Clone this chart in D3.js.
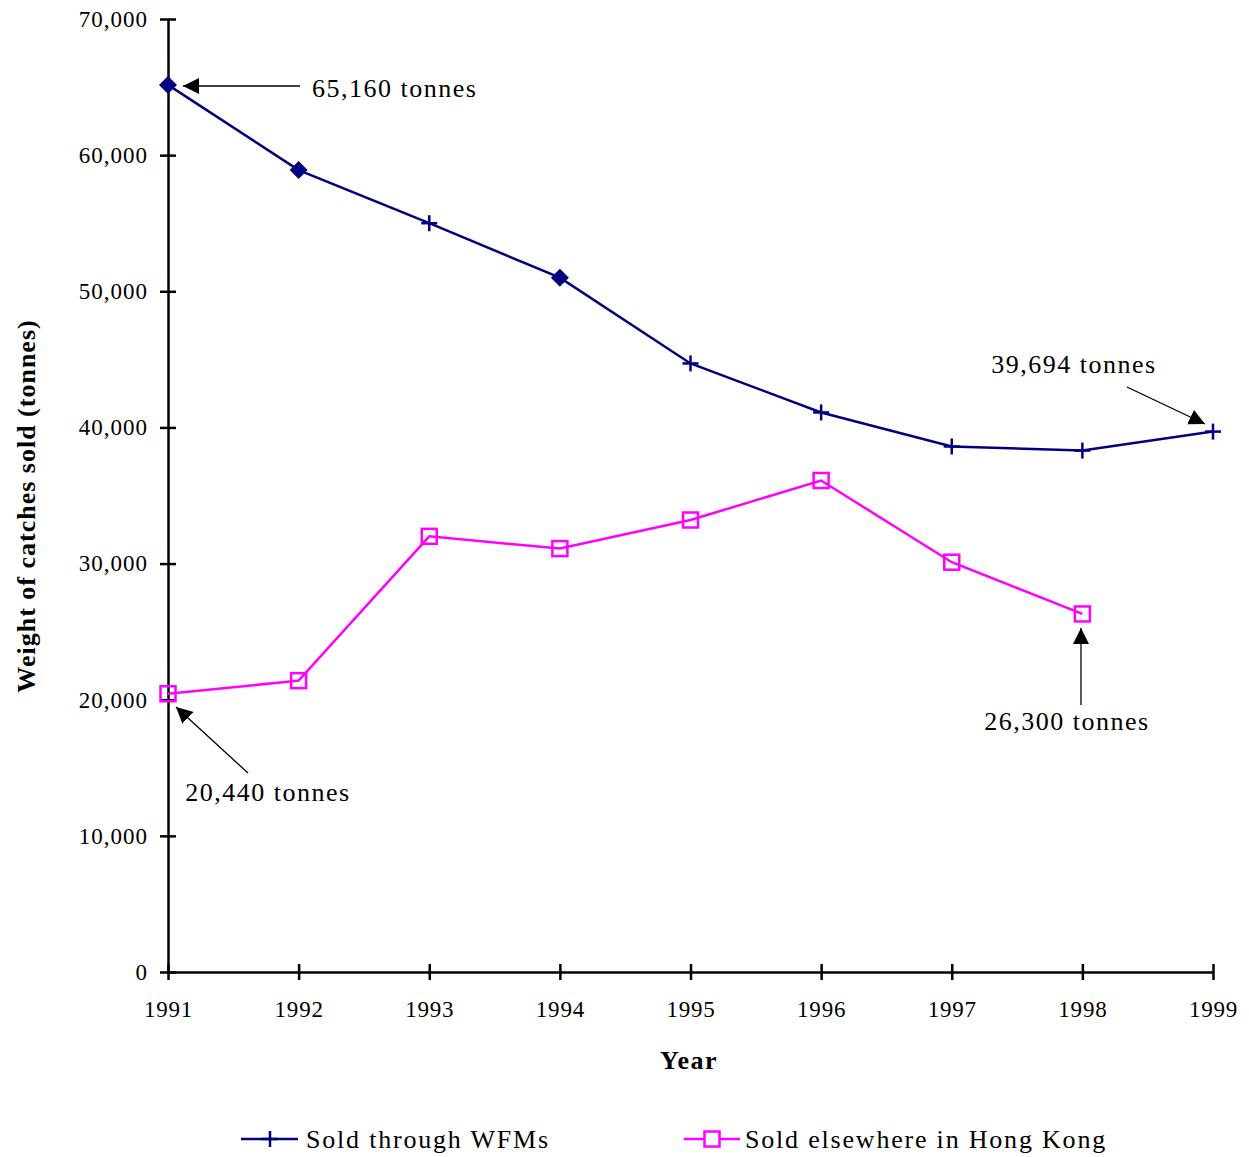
<!DOCTYPE html>
<html>
<head>
<meta charset="utf-8">
<script src="https://cdn.jsdelivr.net/npm/d3@7"></script>
<style>
  html, body { margin: 0; padding: 0; background: #fff; }
  svg text { font-family: "Liberation Serif", "Times New Roman", serif; fill: #000; }
</style>
</head>
<body>
<svg id="chart" width="1249" height="1157"></svg>
<script>
// Catches landed, by year
const years = [1991, 1992, 1993, 1994, 1995, 1996, 1997, 1998, 1999];
const wfmValues = [65160, 58900, 55000, 51000, 44700, 41100, 38600, 38300, 39694];
const wfmMarkers = ["diamond", "diamond", "plus", "diamond", "plus", "plus", "plus", "plus", "plus"];
const elsewhereYears = [1991, 1992, 1993, 1994, 1995, 1996, 1997, 1998];
const elsewhereValues = [20440, 21400, 32000, 31100, 33200, 36100, 30100, 26300];
const yTicks = [0, 10000, 20000, 30000, 40000, 50000, 60000, 70000];
const seriesNames = ["Sold through WFMs", "Sold elsewhere in Hong Kong"];
const seriesColors = ["#000080", "#ff00ff"];

const svg = d3.select("#chart");
const x = d3.scaleLinear().domain([1991, 1999]).range([168, 1213]);
const y = d3.scaleLinear().domain([0, 70000]).range([972, 19]);
const fmt = d3.format(",");

// Axes
const yAxis = d3.axisLeft(y).tickValues(yTicks).tickFormat(v => fmt(v)).tickSize(0).tickPadding(20);
const gy = svg.append("g").attr("transform", `translate(${x(1991)},0)`).call(yAxis);
gy.select(".domain").attr("stroke", "#000").attr("stroke-width", 2.5);
gy.selectAll(".tick text").attr("font-size", 23).attr("letter-spacing", 1)
  .style("font-family", "Liberation Serif");
gy.selectAll(".tick").append("line").attr("x1", -8).attr("x2", 8).attr("stroke", "#000").attr("stroke-width", 2.5);

const xAxis = d3.axisBottom(x).tickValues(years).tickFormat(d3.format("d")).tickSize(0).tickPadding(29);
const gx = svg.append("g").attr("transform", `translate(0,${y(0)})`).call(xAxis);
gx.select(".domain").attr("stroke", "#000").attr("stroke-width", 2.5);
gx.selectAll(".tick text").attr("font-size", 23).attr("letter-spacing", 0.8)
  .style("font-family", "Liberation Serif");
gx.selectAll(".tick").append("line").attr("y1", -8).attr("y2", 8).attr("stroke", "#000").attr("stroke-width", 2.5);

// Axis titles
svg.append("text").attr("x", 689).attr("y", 1069).attr("text-anchor", "middle")
  .attr("font-size", 26).attr("letter-spacing", 1.5).attr("font-weight", "bold").text("Year");
svg.append("text").attr("transform", `translate(35,506) rotate(-90)`).attr("text-anchor", "middle")
  .attr("font-size", 26).attr("letter-spacing", 1).attr("font-weight", "bold")
  .text("Weight of catches sold (tonnes)");

// Series lines
const line = d3.line().x(d => x(d[0])).y(d => y(d[1]));
const wfmData = years.map((yr, i) => [yr, wfmValues[i], wfmMarkers[i]]);
const elseData = elsewhereYears.map((yr, i) => [yr, elsewhereValues[i]]);

svg.append("path").datum(wfmData).attr("d", line).attr("fill", "none")
  .attr("stroke", seriesColors[0]).attr("stroke-width", 2.5);
svg.append("path").datum(elseData).attr("d", line).attr("fill", "none")
  .attr("stroke", seriesColors[1]).attr("stroke-width", 2.5);

// WFM markers: diamonds on some years, plus signs elsewhere
function plusMarker(g, cx, cy, color) {
  g.append("line").attr("x1", cx).attr("x2", cx).attr("y1", cy - 8).attr("y2", cy + 8)
    .attr("stroke", color).attr("stroke-width", 2.5);
  g.append("line").attr("x1", cx - 8).attr("x2", cx + 8).attr("y1", cy).attr("y2", cy)
    .attr("stroke", color).attr("stroke-width", 2.5);
}
const mk = svg.append("g");
wfmData.forEach(d => {
  const cx = x(d[0]), cy = y(d[1]);
  if (d[2] === "diamond") {
    mk.append("path").attr("d", `M${cx},${cy - 9}L${cx + 9},${cy}L${cx},${cy + 9}L${cx - 9},${cy}Z`)
      .attr("fill", seriesColors[0]);
  } else {
    plusMarker(mk, cx, cy, seriesColors[0]);
  }
});
elseData.forEach(d => {
  mk.append("rect").attr("x", x(d[0]) - 7.5).attr("y", y(d[1]) - 7.5).attr("width", 15).attr("height", 15)
    .attr("fill", "none").attr("stroke", seriesColors[1]).attr("stroke-width", 2.5);
});

// Annotation arrows
svg.append("defs").append("marker").attr("id", "arrowhead")
  .attr("viewBox", "0 0 10 10").attr("refX", 10).attr("refY", 5)
  .attr("markerWidth", 16).attr("markerHeight", 16).attr("markerUnits", "userSpaceOnUse")
  .attr("orient", "auto")
  .append("path").attr("d", "M0,0L10,5L0,10Z").attr("fill", "#000");

const annotations = [
  { label: "65,160 tonnes", tx: 312, ty: 97, anchor: "start", from: [300, 86], to: [183, 86] },
  { label: "39,694 tonnes", tx: 1074, ty: 373, anchor: "middle", from: [1127, 387], to: [1205, 424] },
  { label: "20,440 tonnes", tx: 268, ty: 801, anchor: "middle", from: [248, 773], to: [176, 707] },
  { label: "26,300 tonnes", tx: 1067, ty: 730, anchor: "middle", from: [1081, 705], to: [1081, 628] }
];
annotations.forEach(a => {
  svg.append("line").attr("x1", a.from[0]).attr("y1", a.from[1]).attr("x2", a.to[0]).attr("y2", a.to[1])
    .attr("stroke", "#000").attr("stroke-width", 1.3).attr("marker-end", "url(#arrowhead)");
  svg.append("text").attr("x", a.tx).attr("y", a.ty).attr("text-anchor", a.anchor)
    .attr("font-size", 26).attr("letter-spacing", 1.5).text(a.label);
});

// Legend
const legend = svg.append("g");
[[241, 298, 270, 306], [684, 740, 712, 745]].forEach((p, i) => {
  legend.append("line").attr("x1", p[0]).attr("x2", p[1]).attr("y1", 1139).attr("y2", 1139)
    .attr("stroke", seriesColors[i]).attr("stroke-width", 2.5);
  if (i === 0) plusMarker(legend, p[2], 1139, seriesColors[0]);
  else legend.append("rect").attr("x", p[2] - 7.5).attr("y", 1139 - 7.5).attr("width", 15).attr("height", 15)
    .attr("fill", "#fff").attr("stroke", seriesColors[1]).attr("stroke-width", 2.5);
  legend.append("text").attr("x", p[3]).attr("y", 1148).attr("font-size", 26).attr("letter-spacing", 1.8)
    .text(seriesNames[i]);
});
</script>
</body>
</html>
